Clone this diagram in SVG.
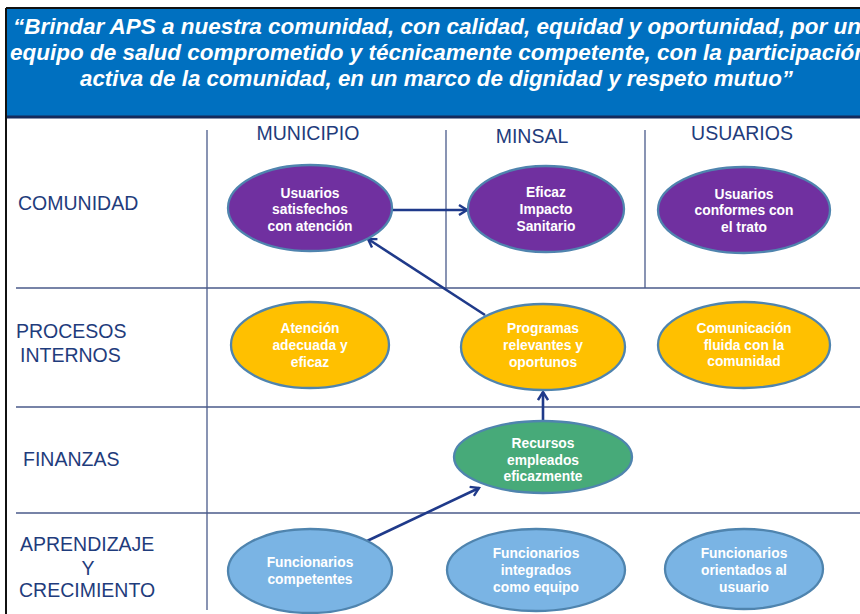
<svg xmlns="http://www.w3.org/2000/svg" width="860" height="614" viewBox="0 0 860 614">
<defs>
<style>
.hdr{font-family:"Liberation Sans",Arial,sans-serif;font-weight:bold;font-style:italic;font-size:22px;fill:#ffffff}
.lbl{font-family:"Liberation Sans",Arial,sans-serif;font-size:19.5px;fill:#1F3C7C}
.grid{stroke:#4A5A8A;stroke-width:1.3;fill:none}
.node{stroke:#4F84AE;stroke-width:2.3}
.nt{font-family:"Liberation Sans",Arial,sans-serif;font-weight:bold;font-size:13.8px;fill:#ffffff;text-anchor:middle}
.purple{fill:#7030A0}
.yellow{fill:#FFC000}
.green{fill:#47AA79}
.blue{fill:#7AB4E4}
.conn{stroke:#1F3A8A;stroke-width:2.6;fill:none}
</style>
<marker id="arr" viewBox="0 0 12 12" refX="10" refY="6" markerWidth="12" markerHeight="12" markerUnits="userSpaceOnUse" orient="auto">
<path d="M2,1 L10,6 L2,11" fill="none" stroke="#1F3A8A" stroke-width="2.4"/>
</marker>
</defs>
<rect x="0" y="0" width="860" height="614" fill="#ffffff"/>
<g id="header">
<rect x="6" y="8" width="860" height="108" fill="#0070C0"/>
<rect x="6" y="115.5" width="860" height="3" fill="#142B5C"/>
<line x1="6" y1="8" x2="860" y2="8" stroke="#111111" stroke-width="2"/>
<text class="hdr" x="13" y="34" textLength="848" lengthAdjust="spacingAndGlyphs">“Brindar APS a nuestra comunidad, con calidad, equidad y oportunidad, por un</text>
<text class="hdr" x="10" y="60" textLength="858" lengthAdjust="spacingAndGlyphs">equipo de salud comprometido y técnicamente competente, con la participación</text>
<text class="hdr" x="80" y="86" textLength="713" lengthAdjust="spacingAndGlyphs">activa de la comunidad, en un marco de dignidad y respeto mutuo”</text>
</g>
<line x1="6" y1="8" x2="6" y2="614" stroke="#111111" stroke-width="2"/>
<g id="grid">
<line class="grid" x1="207" y1="130" x2="207" y2="610"/>
<line class="grid" x1="446" y1="130" x2="446" y2="288"/>
<line class="grid" x1="645" y1="130" x2="645" y2="288"/>
<line class="grid" x1="16" y1="288" x2="860" y2="288"/>
<line class="grid" x1="16" y1="407" x2="860" y2="407"/>
<line class="grid" x1="16" y1="513" x2="860" y2="513"/>
</g>
<g id="labels">
<text class="lbl" x="308" y="140" text-anchor="middle">MUNICIPIO</text>
<text class="lbl" x="532" y="143" text-anchor="middle">MINSAL</text>
<text class="lbl" x="742" y="140" text-anchor="middle">USUARIOS</text>
<text class="lbl" x="18" y="210">COMUNIDAD</text>
<text class="lbl" x="16" y="338">PROCESOS</text>
<text class="lbl" x="20" y="362">INTERNOS</text>
<text class="lbl" x="23" y="466">FINANZAS</text>
<text class="lbl" x="20" y="551">APRENDIZAJE</text>
<text class="lbl" x="88" y="575" text-anchor="middle">Y</text>
<text class="lbl" x="19" y="597">CRECIMIENTO</text>
</g>
<g id="connectors">
<line class="conn" x1="392" y1="210" x2="467" y2="210" marker-end="url(#arr)"/>
<line class="conn" x1="485" y1="315" x2="368" y2="239" marker-end="url(#arr)"/>
<line class="conn" x1="543" y1="422" x2="543" y2="392" marker-end="url(#arr)"/>
<line class="conn" x1="367" y1="541" x2="479" y2="488" marker-end="url(#arr)"/>
</g>
<g id="n1"><ellipse class="node purple" cx="310" cy="208" rx="82" ry="43"/>
<text class="nt" x="310" y="198">Usuarios</text><text class="nt" x="310" y="214">satisfechos</text><text class="nt" x="310" y="231">con atención</text></g>
<g id="n2"><ellipse class="node purple" cx="546" cy="209" rx="78" ry="43"/>
<text class="nt" x="546" y="197">Eficaz</text><text class="nt" x="546" y="214">Impacto</text><text class="nt" x="546" y="231">Sanitario</text></g>
<g id="n3"><ellipse class="node purple" cx="744" cy="210" rx="86" ry="43"/>
<text class="nt" x="744" y="199">Usuarios</text><text class="nt" x="744" y="215">conformes con</text><text class="nt" x="744" y="232">el trato</text></g>
<g id="n4"><ellipse class="node yellow" cx="310" cy="345" rx="79" ry="43"/>
<text class="nt" x="310" y="333">Atención</text><text class="nt" x="310" y="350">adecuada y</text><text class="nt" x="310" y="367">eficaz</text></g>
<g id="n5"><ellipse class="node yellow" cx="543" cy="347" rx="82" ry="43"/>
<text class="nt" x="543" y="333">Programas</text><text class="nt" x="543" y="350">relevantes y</text><text class="nt" x="543" y="367">oportunos</text></g>
<g id="n6"><ellipse class="node yellow" cx="744" cy="345" rx="86" ry="43"/>
<text class="nt" x="744" y="333">Comunicación</text><text class="nt" x="744" y="350">fluida con la</text><text class="nt" x="744" y="366">comunidad</text></g>
<g id="n7"><ellipse class="node green" cx="543" cy="457" rx="89" ry="36"/>
<text class="nt" x="543" y="448">Recursos</text><text class="nt" x="543" y="465">empleados</text><text class="nt" x="543" y="481">eficazmente</text></g>
<g id="n8"><ellipse class="node blue" cx="310" cy="571" rx="82" ry="42"/>
<text class="nt" x="310" y="567">Funcionarios</text><text class="nt" x="310" y="584">competentes</text></g>
<g id="n9"><ellipse class="node blue" cx="536" cy="570" rx="89" ry="41"/>
<text class="nt" x="536" y="558">Funcionarios</text><text class="nt" x="536" y="575">integrados</text><text class="nt" x="536" y="592">como equipo</text></g>
<g id="n10"><ellipse class="node blue" cx="744" cy="569" rx="79" ry="40"/>
<text class="nt" x="744" y="558">Funcionarios</text><text class="nt" x="744" y="575">orientados al</text><text class="nt" x="744" y="592">usuario</text></g>
</svg>
